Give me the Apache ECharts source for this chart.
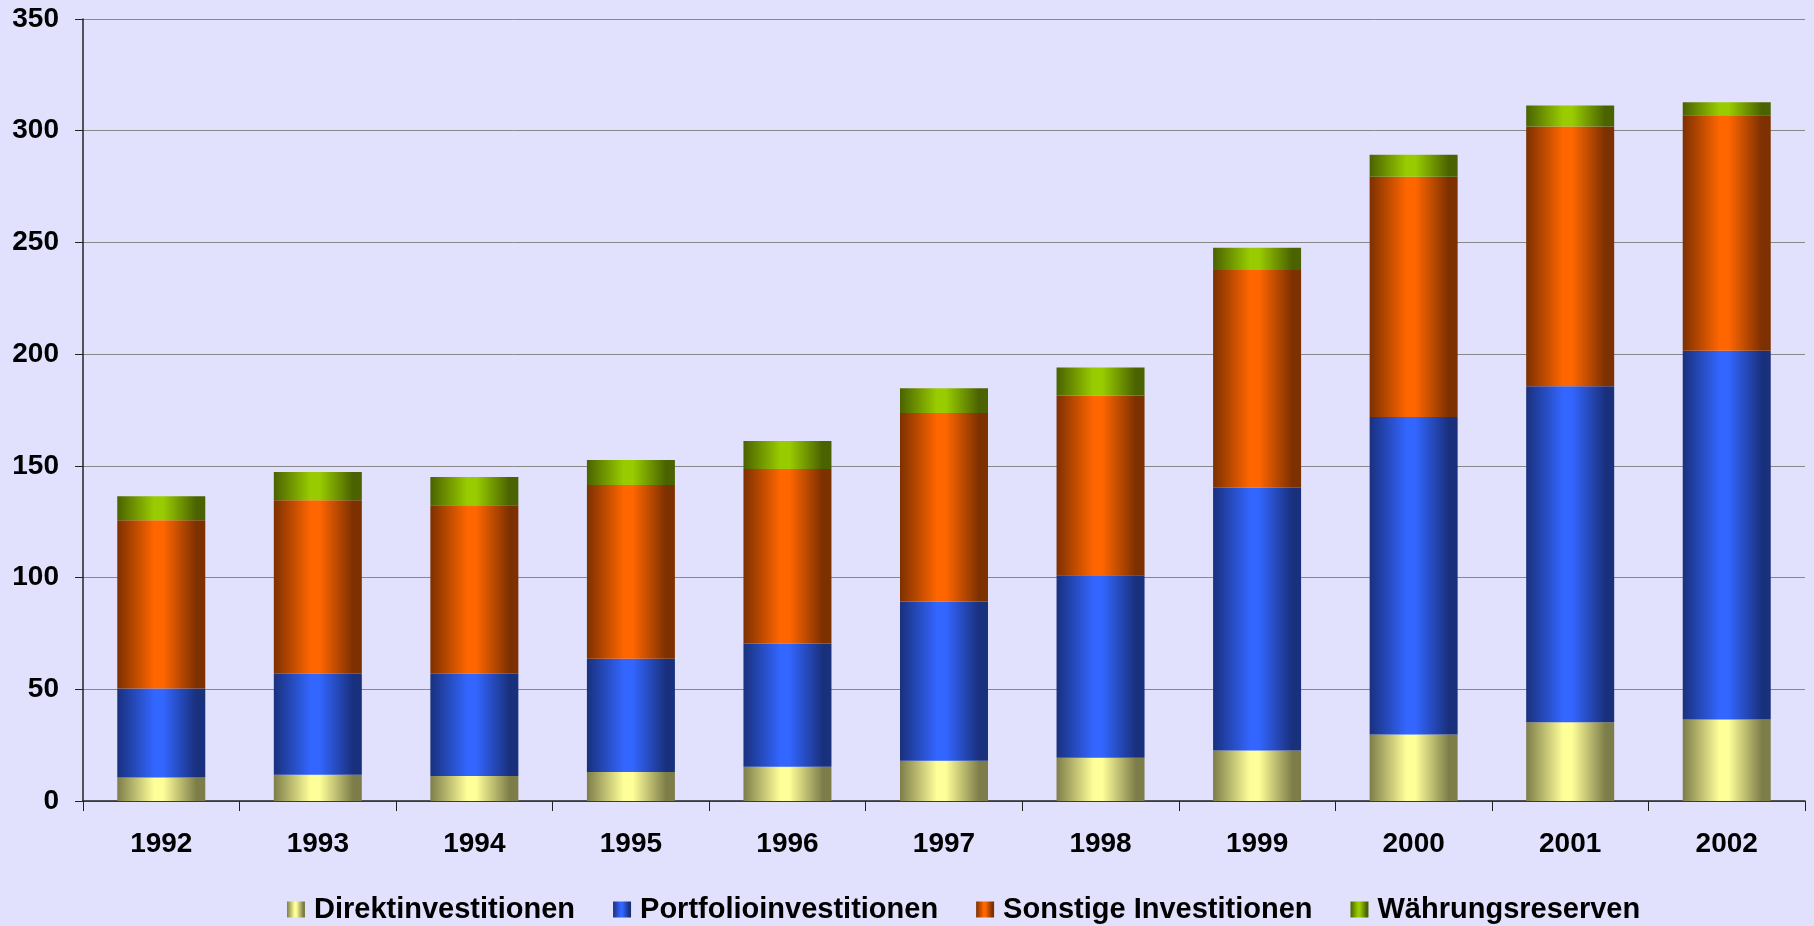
<!DOCTYPE html>
<html>
<head>
<meta charset="utf-8">
<script src="https://cdn.jsdelivr.net/npm/echarts@6/dist/echarts.min.js"></script>
<style>
  html, body { margin: 0; padding: 0; background: #e1e1fd; }
  #chart { width: 1814px; height: 926px; }
</style>
</head>
<body>
<div id="chart"></div>
<script>
const years = ['1992', '1993', '1994', '1995', '1996', '1997', '1998', '1999', '2000', '2001', '2002']
const direkt = [10.5, 11.7, 11.2, 13.0, 15.3, 18.0, 19.4, 22.6, 29.8, 35.2, 36.5]
const portfolio = [39.8, 45.3, 45.8, 50.7, 55.2, 71.3, 81.6, 117.6, 142.1, 150.4, 165.0]
const sonstige = [75.4, 77.6, 75.4, 77.7, 78.1, 84.4, 80.5, 97.5, 107.5, 116.3, 105.4]
const waehrung = [10.7, 12.6, 12.6, 11.2, 12.5, 11.0, 12.5, 9.9, 9.8, 9.4, 5.8]
const seriesNames = ['Direktinvestitionen', 'Portfolioinvestitionen', 'Sonstige Investitionen', 'Währungsreserven']

const font = 'Liberation Sans, Arial, sans-serif'

// cylinder-ish shading like the old Excel charts
function shade(dark, bright) {
  return new echarts.graphic.LinearGradient(0, 0, 1, 0, [
    { offset: 0, color: dark },
    { offset: 0.42, color: bright },
    { offset: 0.52, color: bright },
    { offset: 0.9, color: dark },
    { offset: 1, color: dark }
  ])
}

const colors = [
  shade('#7d7d4a', '#ffff99'),
  shade('#19307d', '#3366ff'),
  shade('#7d3000', '#ff6600'),
  shade('#4a6200', '#99cc00')
]

function makeSeries(name, data, i) {
  return {
    name: name,
    type: 'bar',
    stack: 'total',
    barWidth: 88,
    data: data,
    itemStyle: { color: colors[i] },
    animation: false
  }
}

const chart = echarts.init(document.getElementById('chart'))
chart.setOption({
  backgroundColor: '#e1e1fd',
  grid: { left: 83, right: 9, top: 19, bottom: 125 },
  legend: {
    data: seriesNames,
    icon: 'rect',
    left: 282,
    top: 890,
    itemWidth: 18,
    itemHeight: 16,
    itemGap: 38,
    textStyle: {
      fontFamily: font,
      fontWeight: 'bold',
      fontSize: 29,
      color: '#000',
      padding: [0, 0, 0, 4]
    }
  },
  xAxis: {
    type: 'category',
    data: years,
    axisLine: { lineStyle: { color: '#222', width: 1.5 } },
    axisTick: { show: true, length: 10, lineStyle: { color: '#222' } },
    axisLabel: {
      margin: 29,
      fontFamily: font,
      fontWeight: 'bold',
      fontSize: 28,
      color: '#000'
    }
  },
  yAxis: {
    type: 'value',
    min: 0,
    max: 350,
    interval: 50,
    axisLine: { show: true, lineStyle: { color: '#222', width: 1.5 } },
    axisTick: { show: true, length: 8, lineStyle: { color: '#222' } },
    splitLine: { lineStyle: { color: '#888', width: 1 } },
    axisLabel: {
      margin: 24,
      fontFamily: font,
      fontWeight: 'bold',
      fontSize: 28,
      color: '#000'
    }
  },
  series: [
    makeSeries(seriesNames[0], direkt, 0),
    makeSeries(seriesNames[1], portfolio, 1),
    makeSeries(seriesNames[2], sonstige, 2),
    makeSeries(seriesNames[3], waehrung, 3)
  ]
})
</script>
</body>
</html>
